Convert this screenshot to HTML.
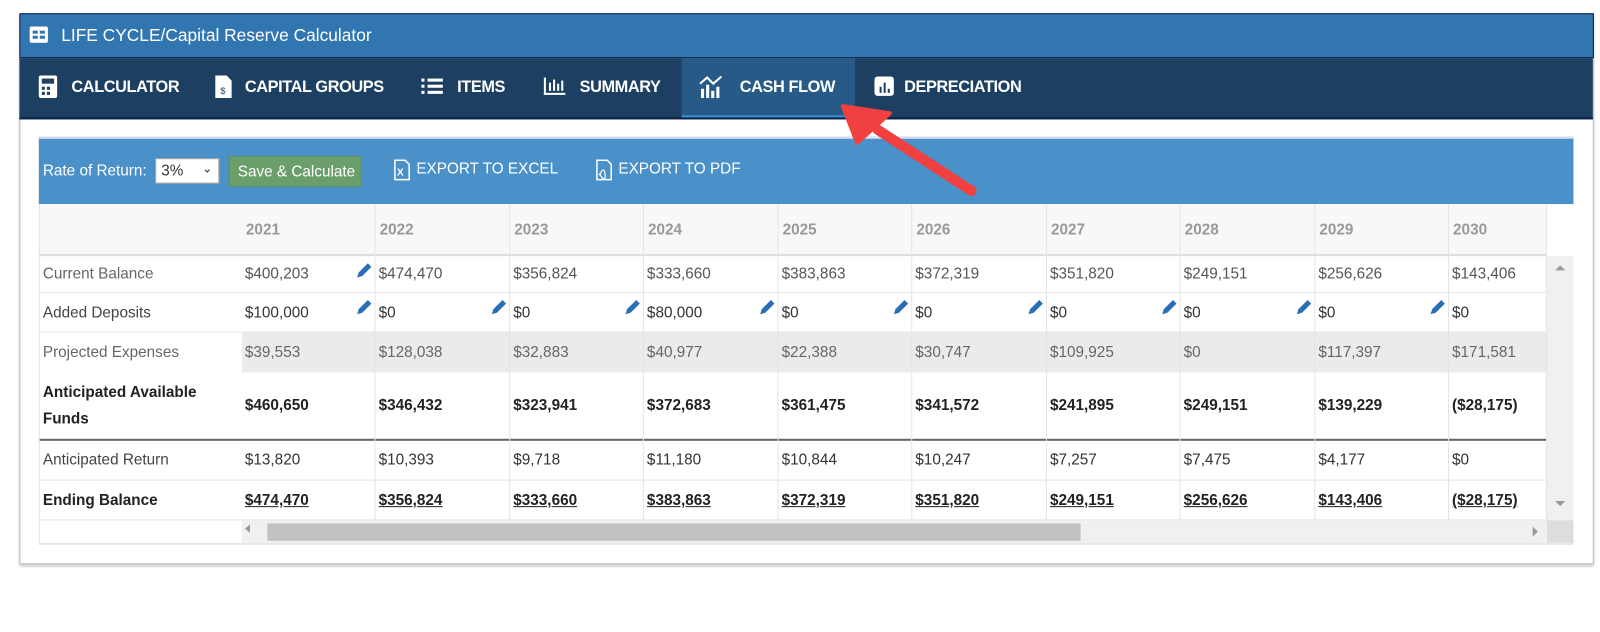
<!DOCTYPE html>
<html><head><meta charset="utf-8"><style>
*{box-sizing:border-box;margin:0;padding:0}
body{width:1600px;height:619px;background:#fff;font-family:"Liberation Sans",sans-serif;position:relative;overflow:hidden}
#w{position:absolute;left:0;top:0;width:1568px;height:607px;transform:scale(1.0204);transform-origin:0 0}
.abs{position:absolute}
.panel{left:19px;top:13px;width:1543px;height:540px;background:#fff;border:1px solid #bbb;box-shadow:0 2px 3px rgba(0,0,0,.25)}
.title{left:19px;top:13px;width:1543px;height:44px;background:#3276b1;border:1px solid #0b1f4a;color:#fff;font-size:17px;line-height:42px;padding-left:40px}
.nav{left:19px;top:57px;width:1542px;height:60px;background:#1d4062;border-bottom:2px solid #0b1f4a}
.tab{position:absolute;top:0;height:58px;line-height:58px;color:#fff;font-weight:bold;font-size:16px;letter-spacing:-0.4px}
.tb{left:38px;top:134px;width:1504px;height:66px;background:#4a90c9;border-top:2px solid #dde;color:#fff;font-size:15px}
.cell{position:absolute;font-size:15px;color:#333;border-right:1px solid #e4e4e4;padding-left:4px}
.hline{position:absolute;height:1px;background:#e4e4e4}
</style></head><body>
<div id="w">
<div class="abs panel"></div>
<div class="abs title">LIFE CYCLE/Capital Reserve Calculator</div>
<svg class="abs" style="left:29px;top:26px" width="18" height="16"><rect x="0" y="0" width="18" height="16" rx="2" fill="#fff"/><rect x="3" y="4" width="5" height="3" fill="#3276b1"/><rect x="10" y="4" width="5" height="3" fill="#3276b1"/><rect x="3" y="9" width="5" height="3" fill="#3276b1"/><rect x="10" y="9" width="5" height="3" fill="#3276b1"/></svg>
<div class="abs nav">
 <div class="tab" style="left:649px;width:170px;background:#275a87;border-bottom:2px solid #3a8fd0"></div>
 <div class="tab" style="left:51px">CALCULATOR</div>
 <div class="tab" style="left:221px">CAPITAL GROUPS</div>
 <div class="tab" style="left:429px">ITEMS</div>
 <div class="tab" style="left:549px">SUMMARY</div>
 <div class="tab" style="left:706px">CASH FLOW</div>
 <div class="tab" style="left:867px">DEPRECIATION</div>
</div>
<svg class="abs" style="left:36px;top:73px" width="990" height="26" fill="#fff">
 <rect x="2" y="1" width="18" height="22" rx="2"/><rect x="5" y="4" width="12" height="5" fill="#1d4062"/><rect x="5" y="12" width="3" height="3" fill="#1d4062"/><rect x="10" y="12" width="3" height="3" fill="#1d4062"/><rect x="5" y="17" width="3" height="3" fill="#1d4062"/><rect x="10" y="17" width="3" height="3" fill="#1d4062"/>
 <path d="M175 1h11l5 5v17h-16z"/><text x="180" y="19" font-size="9" fill="#1d4062">$</text>
 <rect x="377" y="4" width="3" height="3"/><rect x="377" y="10" width="3" height="3"/><rect x="377" y="16" width="3" height="3"/><rect x="383" y="4" width="15" height="3"/><rect x="383" y="10" width="15" height="3"/><rect x="383" y="16" width="15" height="3"/>
 <rect x="497" y="3" width="2" height="17"/><rect x="497" y="18" width="21" height="2"/><rect x="502" y="8" width="2" height="8"/><rect x="506" y="5" width="2" height="11"/><rect x="510" y="9" width="2" height="7"/><rect x="514" y="6" width="2" height="10"/>
 <rect x="651" y="14" width="3" height="9"/><rect x="656" y="10" width="3" height="13"/><rect x="661" y="16" width="3" height="7"/><rect x="666" y="12" width="3" height="11"/><polyline points="650,9 657,3 663,9 671,2" fill="none" stroke="#fff" stroke-width="2"/>
 <rect x="821" y="2" width="19" height="19" rx="3"/><rect x="826" y="12" width="2" height="6" fill="#1d4062"/><rect x="830" y="8" width="2" height="10" fill="#1d4062"/><rect x="834" y="14" width="2" height="4" fill="#1d4062"/>
</svg>
<div class="abs tb">
 <span class="abs" style="left:4px;top:23px">Rate of Return:</span>
 <div class="abs" style="left:114px;top:19px;width:63px;height:25px;background:#fff;border:1px solid #999;color:#333;padding:3px 0 0 5px">3%<span style="position:absolute;right:6px;top:2px;font-size:12px">&#8964;</span></div>
 <div class="abs" style="left:186px;top:17px;width:130px;height:30px;background:#6a9e6a;border:1px solid #5e915e;color:#fff;padding:6px 0 0 8px">Save &amp; Calculate</div>
 <span class="abs" style="left:370px;top:21px">EXPORT TO EXCEL</span>
 <span class="abs" style="left:568px;top:21px">EXPORT TO PDF</span>
 <svg class="abs" style="left:348px;top:20px" width="240" height="22"><path d="M1 1h10l4 4v15H1z" fill="none" stroke="#fff" stroke-width="1.5"/><text x="3" y="16" font-size="10" fill="#fff" font-weight="bold">X</text><path d="M199 1h10l4 4v15h-14z" fill="none" stroke="#fff" stroke-width="1.5"/><path d="M202 15q4-9 5 0t-6-1" fill="none" stroke="#fff" stroke-width="1.2"/></svg>
</div>
<div class="abs" style="left:38px;top:200px;width:1478px;height:51px;background:#f8f8f8;border-bottom:2px solid #ddd"></div>
<div class="abs" style="left:237px;top:326px;width:1279px;height:39px;background:#ebebeb"></div>
<div class="abs" style="left:38px;top:430px;width:1478px;height:2px;background:#666"></div>
<div class="abs" style="left:237px;top:510px;width:1279px;height:22px;background:#f0f0f0"></div>
<div class="abs" style="left:262px;top:513px;width:797px;height:17px;background:#c1c1c1"></div>
<div class="abs" style="left:1516px;top:251px;width:26px;height:281px;background:#f0f0f0"></div>
<div class="abs" style="left:1516px;top:510px;width:26px;height:22px;background:#ddd"></div>
<div class="abs" style="left:38px;top:532px;width:1504px;height:2px;background:#e8e8e8"></div>
<div class="abs" style="left:38px;top:200px;width:1px;height:334px;background:#e4e4e4"></div>
<svg class="abs" style="left:0;top:0" width="1600" height="619">
<g fill="#999"><path d="M245 522l-5-4 5-4z"/><path d="M1502 516l5 5-5 5z"/><path d="M1524 265l5-5 5 5z"/><path d="M1524 491l5 5 5-5z"/></g>
</svg>
<div id="t"></div>
<svg class="abs" style="left:0;top:0" width="1600" height="619">
<line x1="952" y1="187" x2="860" y2="127" stroke="#f04040" stroke-width="10" stroke-linecap="round"/>
<polygon points="826,104 872,111 840,140" fill="#f04040" stroke="#f04040" stroke-width="4" stroke-linejoin="round"/>
</svg>
</div>
<script>
const cols=[237,368,500,631,763,894,1026,1157,1289,1420,1516];
const years=[2021,2022,2023,2024,2025,2026,2027,2028,2029,2030];
const rows=[
["Current Balance",251,287,["$400,203","$474,470","$356,824","$333,660","$383,863","$372,319","$351,820","$249,151","$256,626","$143,406"],"n","#555"],
["Added Deposits",287,326,["$100,000","$0","$0","$80,000","$0","$0","$0","$0","$0","$0"],"n","#333"],
["Projected Expenses",326,365,["$39,553","$128,038","$32,883","$40,977","$22,388","$30,747","$109,925","$0","$117,397","$171,581"],"n","#666"],
["Anticipated Available<br>Funds",365,431,["$460,650","$346,432","$323,941","$372,683","$361,475","$341,572","$241,895","$249,151","$139,229","($28,175)"],"b","#222"],
["Anticipated Return",431,471,["$13,820","$10,393","$9,718","$11,180","$10,844","$10,247","$7,257","$7,475","$4,177","$0"],"n","#333"],
["Ending Balance",471,510,["$474,470","$356,824","$333,660","$383,863","$372,319","$351,820","$249,151","$256,626","$143,406","($28,175)"],"u","#222"]];
let h='';
for(let i=0;i<10;i++){h+=`<div class="cell" style="left:${cols[i]}px;top:200px;width:${cols[i+1]-cols[i]}px;height:51px;line-height:51px;color:#999;font-weight:bold">${years[i]}</div>`;}
for(let i=0;i<10;i++){h+=`<div class="abs" style="left:${cols[i+1]-1}px;top:251px;width:1px;height:259px;background:#e4e4e4"></div>`;}
rows.forEach((r,ri)=>{
 const [lab,y0,y1,v,st,c]=r;const hh=y1-y0;
 const lw=(st!="n")?"bold":"normal";
 h+=`<div class="abs" style="left:42px;top:${y0}px;height:${hh}px;display:flex;align-items:center;font-size:15px;line-height:26px;color:${st=="n"?(ri==0||ri==2?"#666":"#444"):"#222"};font-weight:${lw}">${lab}</div>`;
 v.forEach((t,i)=>{h+=`<div class="abs" style="left:${cols[i]+3}px;top:${y0}px;height:${hh}px;line-height:${hh}px;font-size:15px;color:${c};font-weight:${st=="n"?"normal":"bold"};${st=="u"?"text-decoration:underline":""}">${t}</div>`;
  if((ri==0&&i==0)||(ri==1&&i<9)) h+=`<svg class="abs" style="left:${cols[i+1]-20}px;top:${y0+5}px" width="18" height="18"><path d="M2 16l1.5-5 9-9 3.5 3.5-9 9z" fill="#2a6fb5"/></svg>`;});
 if(ri!=2&&ri!=3) h+=`<div class="hline" style="left:38px;top:${y1-1}px;width:1478px"></div>`;
});
document.getElementById('t').innerHTML=h;
</script>
</body></html>
